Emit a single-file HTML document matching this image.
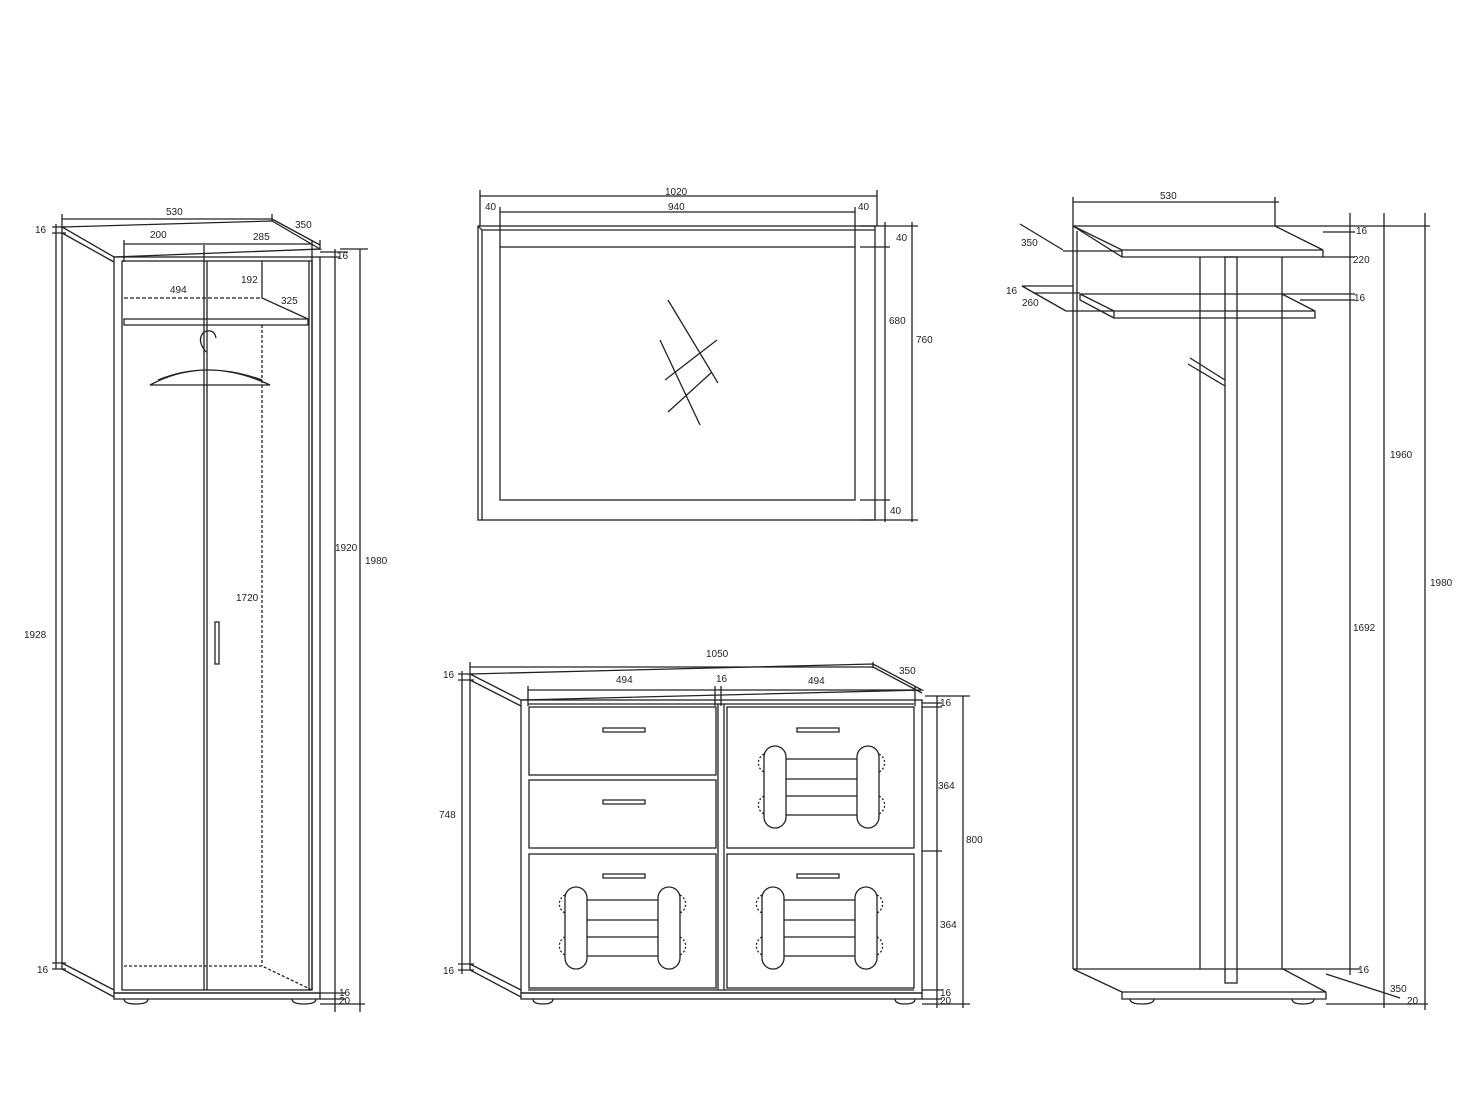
<!DOCTYPE html>
<html><head><meta charset="utf-8"><style>html,body{margin:0;padding:0;background:#fff}svg{display:block}text{font-family:"Liberation Sans",sans-serif;font-size:10px;fill:#222}</style></head><body>
<svg width="1468" height="1102" viewBox="0 0 1468 1102" xmlns="http://www.w3.org/2000/svg">
<rect width="1468" height="1102" fill="#fff"/>
<g fill="none" stroke="#222" stroke-width="1.3">
<!-- WARDROBE -->
<path d="M62,227 L272,221 L320,249 L114,257 Z"/>
<path d="M62,233 L114,262"/>
<path d="M62,227 V969 L114,997"/>
<path d="M62,963 L114,990"/>
<rect x="114" y="257" width="206" height="736"/>
<rect x="114" y="993" width="206" height="6"/>
<path d="M124,999 Q124,1004 136,1004 Q148,1004 148,999 M292,999 Q292,1004 304,1004 Q316,1004 316,999"/>
<rect x="122" y="261" width="190" height="729"/>
<path d="M204,245 V990 M207,261 V990 M312,261 V990 M309,261 V990"/>
<path d="M124,325 H308 V319 H124 Z"/>
<path d="M262,261 V298 L308,319"/>
<path d="M124,298 H262" stroke-dasharray="4,2"/>
<path d="M262,325 V966 M124,966 H262 L312,990" stroke-dasharray="3,2"/>
<path d="M150,385 Q206,355 270,385 Z M158,380 Q206,360 262,380"/>
<path d="M206,352 Q196,340 204,332 Q214,328 216,338"/>
<path d="M215,622 h4 v42 h-4 z"/>
<!-- dims wardrobe -->
<path d="M62,219 H272 M62,214 V227 M272,214 V221 M272,219 L320,245 M320,240 V250"/>
<path d="M124,244 H312 M124,240 V262 M312,240 V262"/>
<path d="M52,227 H66 M52,233 H66 M56,224 V969 M52,963 H66 M52,969 H66"/>
<path d="M320,252 H348 M320,257 H340 M335,249 V1012 M320,993 H346 M320,999 H346 M320,1004 H365 M360,249 V1012 M340,249 H368"/>
<!-- MIRROR -->
<rect x="478" y="226" width="397" height="294"/>
<path d="M478,226 L482,230 H875 M482,230 V520"/>
<rect x="500" y="247" width="355" height="253"/>
<path d="M660,340 L700,425 M668,300 L718,383 M665,380 L717,340 M668,412 L712,372"/>
<path d="M480,196 H877 M480,190 V226 M877,190 V226 M500,212 H855 M500,207 V247 M855,207 V247"/>
<path d="M860,226 H890 M860,247 H890 M885,222 V522 M860,500 H890 M860,520 H918 M875,226 H918 M912,222 V522"/>
<!-- SIDEBOARD -->
<path d="M470,674 L873,664 L922,690 L521,700 Z"/>
<path d="M470,680 L521,706"/>
<path d="M470,674 V970 L521,997 M470,964 L521,990"/>
<rect x="521" y="700" width="401" height="293"/>
<rect x="521" y="993" width="401" height="6"/>
<path d="M533,999 Q533,1004 543,1004 Q553,1004 553,999 M895,999 Q895,1004 905,1004 Q915,1004 915,999"/>
<path d="M718,704 V990 M724,704 V990 M528,704 H914 M528,990 H914"/>
<rect x="529" y="707" width="187" height="68"/><rect x="529" y="780" width="187" height="68"/>
<rect x="529" y="854" width="187" height="134"/>
<rect x="727" y="707" width="187" height="141"/><rect x="727" y="854" width="187" height="134"/>
<path d="M603,728 h42 v4 h-42 z M603,800 h42 v4 h-42 z M603,874 h42 v4 h-42 z M797,728 h42 v4 h-42 z M797,874 h42 v4 h-42 z"/>
<g id="dec">
<rect x="565" y="887" width="22" height="82" rx="11"/><rect x="658" y="887" width="22" height="82" rx="11"/>
<path d="M587,900 H658 M587,920 H658 M587,937 H658 M587,956 H658"/>
<path d="M565,895 A10,10 0 0,0 565,913 M565,937 A10,10 0 0,0 565,955 M680,895 A10,10 0 0,1 680,913 M680,937 A10,10 0 0,1 680,955" stroke-dasharray="2,2"/>
</g>
<use href="#dec" x="197"/>
<use href="#dec" x="199" y="-141"/>
<path d="M470,667 H873 M470,662 V674 M873,662 V668 M873,667 L922,693 M528,690 H915 M528,686 V706 M715,686 V706 M721,686 V706 M915,686 V706"/>
<path d="M458,674 H474 M458,680 H474 M462,671 V974 M458,964 H474 M458,970 H474"/>
<path d="M922,703 H942 M922,707 H942 M937,696 V1008 M922,851 H942 M922,990 H942 M922,999 H942 M922,1004 H970 M925,696 H970 M963,696 V1008"/>
<!-- COAT RACK -->
<path d="M1073,226 H1275 L1323,250 H1122 Z M1122,250 V257 H1323 V250 M1073,226 L1122,257"/>
<path d="M1080,294 H1282 L1315,311 H1114 Z M1114,311 V318 H1315 V311 M1080,294 V300 L1114,318"/>
<path d="M1073,226 V969 M1077,231 V969"/>
<path d="M1200,257 V969 M1282,257 V969"/>
<rect x="1225" y="257" width="12" height="726"/>
<path d="M1190,358 L1225,380 M1188,364 L1225,386"/>
<path d="M1073,969 H1283 L1326,992 H1122 Z M1073,969 L1122,992 M1122,992 V999 H1326 V992"/>
<path d="M1130,999 Q1130,1004 1142,1004 Q1154,1004 1154,999 M1292,999 Q1292,1004 1303,1004 Q1314,1004 1314,999"/>
<path d="M1073,202 H1279 M1073,197 V226 M1275,197 V226"/>
<path d="M1020,224 L1063,250 M1063,251 H1122 M1022,286 L1066,311 M1066,311 H1114 M1022,286 H1073 M1033,293 H1080"/>
<path d="M1275,226 H1430 M1323,232 H1355 M1323,257 H1355 M1282,294 H1355 M1300,300 H1355 M1350,213 V975 M1283,969 H1360 M1384,213 V1008 M1326,974 L1400,998 M1326,1004 H1428 M1425,213 V1010"/>
</g>
<!-- labels -->
<text x="166" y="215">530</text><text x="295" y="228">350</text>
<text x="150" y="238">200</text><text x="253" y="240">285</text>
<text x="35" y="233">16</text><text x="337" y="259">16</text>
<text x="241" y="283">192</text><text x="170" y="293">494</text><text x="281" y="304">325</text>
<text x="236" y="601">1720</text><text x="24" y="638">1928</text>
<text x="335" y="551">1920</text><text x="365" y="564">1980</text>
<text x="37" y="973">16</text><text x="339" y="996">16</text><text x="339" y="1004">20</text>
<text x="665" y="195">1020</text><text x="485" y="210">40</text><text x="668" y="210">940</text><text x="858" y="210">40</text>
<text x="896" y="241">40</text><text x="889" y="324">680</text><text x="916" y="343">760</text><text x="890" y="514">40</text>
<text x="706" y="657">1050</text><text x="899" y="674">350</text>
<text x="616" y="683">494</text><text x="716" y="682">16</text><text x="808" y="684">494</text>
<text x="443" y="678">16</text><text x="439" y="818">748</text><text x="443" y="974">16</text>
<text x="940" y="706">16</text><text x="938" y="789">364</text><text x="966" y="843">800</text><text x="940" y="928">364</text>
<text x="940" y="996">16</text><text x="940" y="1004">20</text>
<text x="1160" y="199">530</text><text x="1021" y="246">350</text><text x="1006" y="294">16</text><text x="1022" y="306">260</text>
<text x="1356" y="234">16</text><text x="1353" y="263">220</text><text x="1354" y="301">16</text>
<text x="1390" y="458">1960</text><text x="1353" y="631">1692</text><text x="1430" y="586">1980</text>
<text x="1358" y="973">16</text><text x="1390" y="992">350</text><text x="1407" y="1004">20</text>
</svg>
</body></html>
